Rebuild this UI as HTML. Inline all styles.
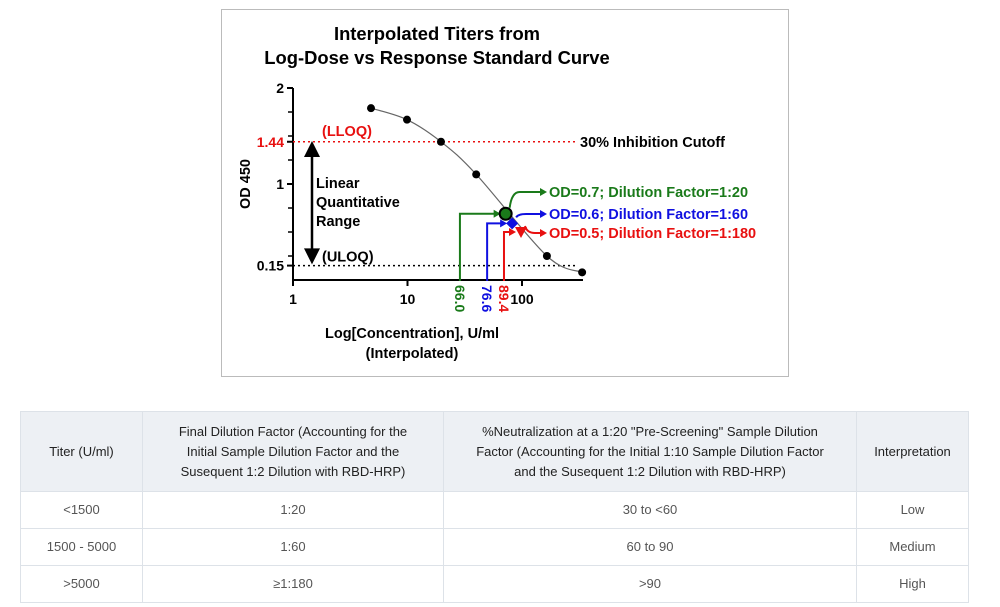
<!DOCTYPE html>
<html><head><meta charset="utf-8">
<style>
body{margin:0;width:1000px;height:607px;background:#fff;font-family:"Liberation Sans",sans-serif;position:relative;overflow:hidden}
#chart{position:absolute;left:0;top:0}
table{position:absolute;left:20px;top:411px;width:948px;border-collapse:collapse;font-size:13px;color:#333;table-layout:fixed}
td,th{border:1px solid #dde2e8;text-align:center;padding:0 6px;line-height:20px}
th{background:#edf0f4;font-weight:normal;color:#222;height:79px}
th.c2{padding:0 20px}
th.c3{padding:0 20px}
td{height:36px;color:#555}
</style></head><body>
<svg id="chart" width="1000" height="400" xmlns="http://www.w3.org/2000/svg" font-family="Liberation Sans, sans-serif" font-weight="bold">
<rect x="221.5" y="9.5" width="567" height="367" fill="#fff" stroke="#bbb"/>
<text x="437" y="40" text-anchor="middle" font-size="18.4">Interpolated Titers from</text>
<text x="437" y="64" text-anchor="middle" font-size="18.4">Log-Dose vs Response Standard Curve</text>
<g id="axes"></g>
<g id="marks"></g>
<text x="412" y="338" text-anchor="middle" font-size="14.5">Log[Concentration], U/ml</text>
<text x="412" y="358" text-anchor="middle" font-size="14.5">(Interpolated)</text>
<text transform="translate(250,184) rotate(-90)" text-anchor="middle" font-size="14.5">OD 450</text>
</svg>
<table>
<colgroup><col style="width:122px"><col style="width:301px"><col style="width:413px"><col style="width:112px"></colgroup>
<tr><th>Titer (U/ml)</th><th class="c2">Final Dilution Factor (Accounting for the Initial Sample Dilution Factor and the Susequent 1:2 Dilution with RBD-HRP)</th><th class="c3">%Neutralization at a 1:20 "Pre-Screening" Sample Dilution Factor (Accounting for the Initial 1:10 Sample Dilution Factor and the Susequent 1:2 Dilution with RBD-HRP)</th><th>Interpretation</th></tr>
<tr><td>&lt;1500</td><td>1:20</td><td>30 to &lt;60</td><td>Low</td></tr>
<tr><td>1500 - 5000</td><td>1:60</td><td>60 to 90</td><td>Medium</td></tr>
<tr><td>&gt;5000</td><td>≥1:180</td><td>&gt;90</td><td>High</td></tr>
</table>
<script>
const concentrations=[4.8,9.9,19.6,39.8,165,335];
const odValues=[1.79,1.67,1.44,1.10,0.25,0.08];
const xTickValues=[1,10,100];
const xTickLabels=["1","10","100"];
const yTickValues=[0.15,1,1.44,2];
const yTickLabels=["0.15","1","1.44","2"];
const interpConc=[72,82,98];
const interpLabels=["66.0","76.6","89.4"];
const interpOD=[0.69,0.59,0.50];
const interpAxisConc=[28.7,49.6,69.6];
const callouts=["OD=0.7; Dilution Factor=1:20","OD=0.6; Dilution Factor=1:60","OD=0.5; Dilution Factor=1:180"];
const colors=["#1a7a1a","#1010e0","#e81010"];
const NS="http://www.w3.org/2000/svg";
const X=c=>293+114.5*Math.log10(c);
const Y=v=>184-(v-1)*96;
function mk(p,t,a){const e=document.createElementNS(NS,t);for(const k in a)e.setAttribute(k,a[k]);p.appendChild(e);return e;}
const ax=document.getElementById('axes'),mg=document.getElementById('marks');
let e;
e=mk(ax,'path',{d:`M293 ${Y(2)} V280 H583`,stroke:'#000','stroke-width':2,fill:'none'});


for(let v=0.25;v<=2.001;v+=0.25){mk(ax,'line',{x1:288,x2:293,y1:Y(v),y2:Y(v),stroke:'#000','stroke-width':1.5});}
yTickValues.forEach((v,i)=>{mk(ax,'line',{x1:287,x2:293,y1:Y(v),y2:Y(v),stroke:'#000','stroke-width':2});
const t=mk(ax,'text',{x:284,y:Y(v)+5,'text-anchor':'end','font-size':14,fill:v===1.44?'#e81010':'#000'});t.textContent=yTickLabels[i];

});
xTickValues.forEach((v,i)=>{mk(ax,'line',{x1:X(v),x2:X(v),y1:280,y2:286,stroke:'#000','stroke-width':2});
const t=mk(ax,'text',{x:X(v),y:304,'text-anchor':'middle','font-size':14});t.textContent=xTickLabels[i];

});
e=mk(mg,'line',{x1:293,x2:578,y1:Y(1.44),y2:Y(1.44),stroke:'#e81010','stroke-width':1.5,'stroke-dasharray':'2 3'});


e=mk(mg,'line',{x1:293,x2:578,y1:Y(0.15),y2:Y(0.15),stroke:'#000','stroke-width':1.5,'stroke-dasharray':'2 3'});


[["(LLOQ)",322,Y(1.44)-6,'#e81010'],["(ULOQ)",322,Y(0.15)-4,'#000'],["30% Inhibition Cutoff",580,Y(1.44)+5,'#000'],["Linear",316,188,'#000'],["Quantitative",316,207,'#000'],["Range",316,226,'#000']].forEach(a=>{
const t=mk(mg,'text',{x:a[1],y:a[2],'font-size':14.5,fill:a[3]});t.textContent=a[0];

});
e=mk(mg,'path',{d:`M312 ${Y(1.44)+4} V${Y(0.15)-6} M306 ${Y(1.44)+14} L312 ${Y(1.44)+2} L318 ${Y(1.44)+14}Z M306 ${Y(0.15)-16} L312 ${Y(0.15)-4} L318 ${Y(0.15)-16}Z`,stroke:'#000','stroke-width':2.5,fill:'#000'});


const P=concentrations.map((c,i)=>[X(c),Y(odValues[i])]);
let d=`M${P[0][0]} ${P[0][1]}`;
for(let i=0;i<P.length-1;i++){const p0=P[i-1]||P[i],p1=P[i],p2=P[i+1],p3=P[i+2]||p2;
d+=` C${p1[0]+(p2[0]-p0[0])/6} ${p1[1]+(p2[1]-p0[1])/6} ${p2[0]-(p3[0]-p1[0])/6} ${p2[1]-(p3[1]-p1[1])/6} ${p2[0]} ${p2[1]}`;}
e=mk(mg,'path',{d:d,stroke:'#666','stroke-width':1.2,fill:'none'});


P.forEach(p=>{const c=mk(mg,'circle',{cx:p[0],cy:p[1],r:4,fill:'#000'});

});
interpConc.forEach((c,i)=>{const col=colors[i],px=X(c),py=Y(interpOD[i]),lx=X(interpAxisConc[i]);
const g=mk(mg,'g',{});


mk(g,'path',{d:`M${lx} 281 V${py} H${px-10}`,stroke:col,'stroke-width':2,fill:'none'});
mk(g,'path',{d:`M${px-12} ${py-4} L${px-5} ${py} L${px-12} ${py+4}Z`,fill:col});
const ty=[192,214,233][i];
mk(g,'path',{d:`M${px+4} ${py-6} Q${px+6} ${ty} ${px+14} ${ty} H${544}`,stroke:col,'stroke-width':2,fill:'none'});
mk(g,'path',{d:`M540 ${ty-4} L547 ${ty} L540 ${ty+4}Z`,fill:col});
if(i===0)mk(g,'circle',{cx:px,cy:py,r:6,fill:'#1a7a1a',stroke:'#000','stroke-width':2});
if(i===1)mk(g,'path',{d:`M${px} ${py-6} L${px+6} ${py} L${px} ${py+6} L${px-6} ${py}Z`,fill:col});
if(i===2)mk(g,'path',{d:`M${px-6} ${py-5} L${px+6} ${py-5} L${px} ${py+6}Z`,fill:col});
const t=mk(g,'text',{x:549,y:ty+5,'font-size':14.5,fill:col});t.textContent=callouts[i];


const v=mk(g,'text',{transform:`translate(${lx-5},285) rotate(90)`,'font-size':14,fill:col});v.textContent=interpLabels[i];


});
</script>
</body></html>
